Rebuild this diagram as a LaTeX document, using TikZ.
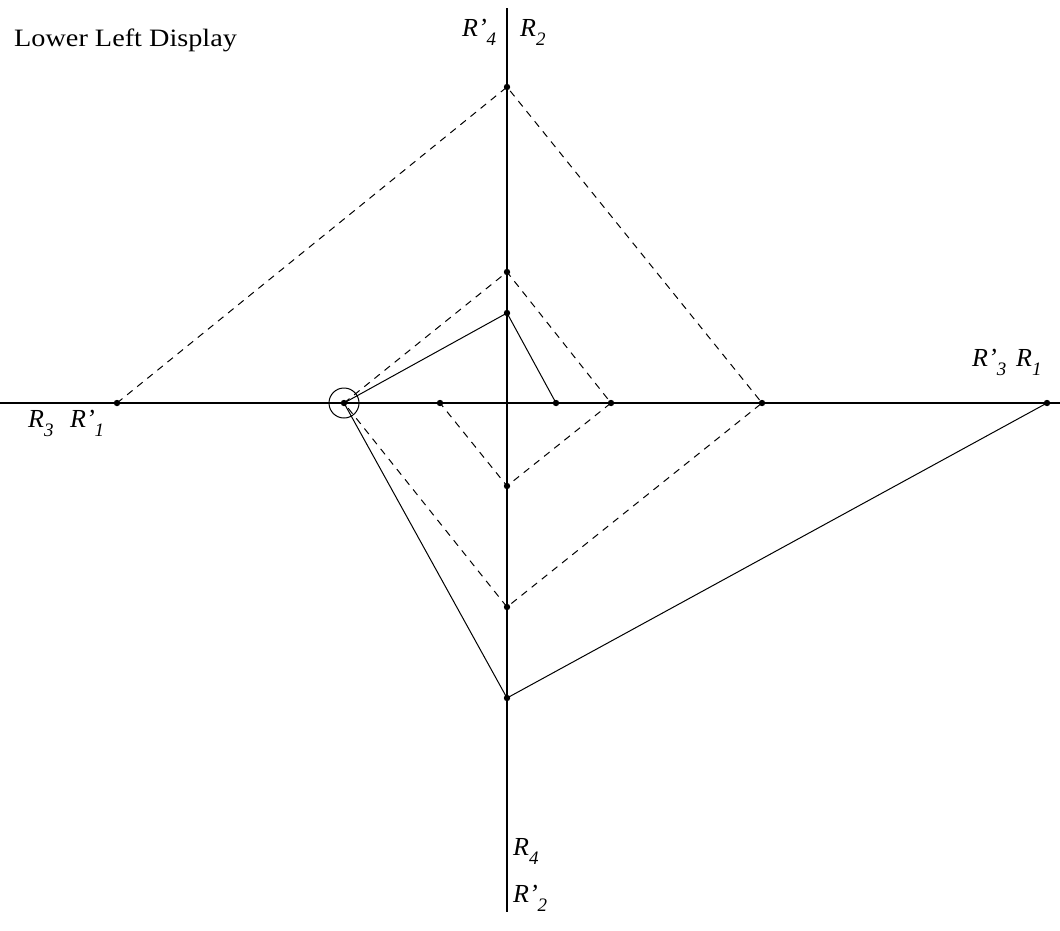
\documentclass[tikz,border=0pt]{standalone}
\usepackage{fontspec}
\setmainfont{Liberation Serif}
\newcommand\rlab[2]{\textit{R#1\raisebox{-9pt}{\fontsize{19}{19}\selectfont #2}}}
\begin{document}
\begin{tikzpicture}[x=1pt,y=-1pt,
  axis/.style={line width=1.5pt,black},
  solidln/.style={line width=1pt,black},
  dashln/.style={line width=1pt,black,dash pattern=on 7pt off 6pt},
  lbl/.style={anchor=base west,inner sep=0pt,font=\fontsize{26}{26}\selectfont},
  ttl/.style={anchor=base west,inner sep=0pt,font=\fontsize{25}{25}\selectfont}]
\useasboundingbox (0,0) rectangle (1060,930);
% axis ends
\coordinate (xl) at (0,403);
\coordinate (xr) at (1060,403);
\coordinate (yt) at (507,8);
\coordinate (yb) at (507,912);
% points on horizontal axis
\coordinate (h1) at (117,403);
\coordinate (h2) at (344,403);
\coordinate (h3) at (440,403);
\coordinate (h4) at (556,403);
\coordinate (h5) at (611,403);
\coordinate (h6) at (762,403);
\coordinate (h7) at (1047,403);
% points on vertical axis
\coordinate (v1) at (507,87);
\coordinate (v2) at (507,272);
\coordinate (v3) at (507,313);
\coordinate (v4) at (507,486);
\coordinate (v5) at (507,607);
\coordinate (v6) at (507,698);
% axes
\draw[axis] (xl) -- (xr);
\draw[axis] (yt) -- (yb);
% dashed
\draw[dashln] (h1) -- (v1) -- (h6) -- (v5) -- (h2);
\draw[dashln] (h2) -- (v2) -- (h5) -- (v4) -- (h3);
% solid
\draw[solidln] (h2) -- (v3) -- (h4);
\draw[solidln] (h2) -- (v6) -- (h7);
% dots
\foreach \p in {h1,h2,h3,h4,h5,h6,h7,v1,v2,v3,v4,v5,v6}
  \fill (\p) circle (3.2pt);
\node[draw,circle,line width=1pt,minimum size=30pt,inner sep=0pt] (ring) at (h2) {};
% labels
\node[ttl] (title) at (14,46) {\scalebox{1.13}[1]{Lower Left Display}};
\node[lbl] (l4p) at (462,36) {\rlab{'}{4}};
\node[lbl] (l2) at (520,36) {\rlab{}{2}};
\node[lbl] (l3p) at (972,366) {\rlab{'}{3}};
\node[lbl] (l1) at (1016,366) {\rlab{}{1}};
\node[lbl] (l3) at (28,427) {\rlab{}{3}};
\node[lbl] (l1p) at (70,427) {\rlab{'}{1}};
\node[lbl] (l4) at (513,855) {\rlab{}{4}};
\node[lbl] (l2p) at (513,902) {\rlab{'}{2}};
\end{tikzpicture}
\end{document}
